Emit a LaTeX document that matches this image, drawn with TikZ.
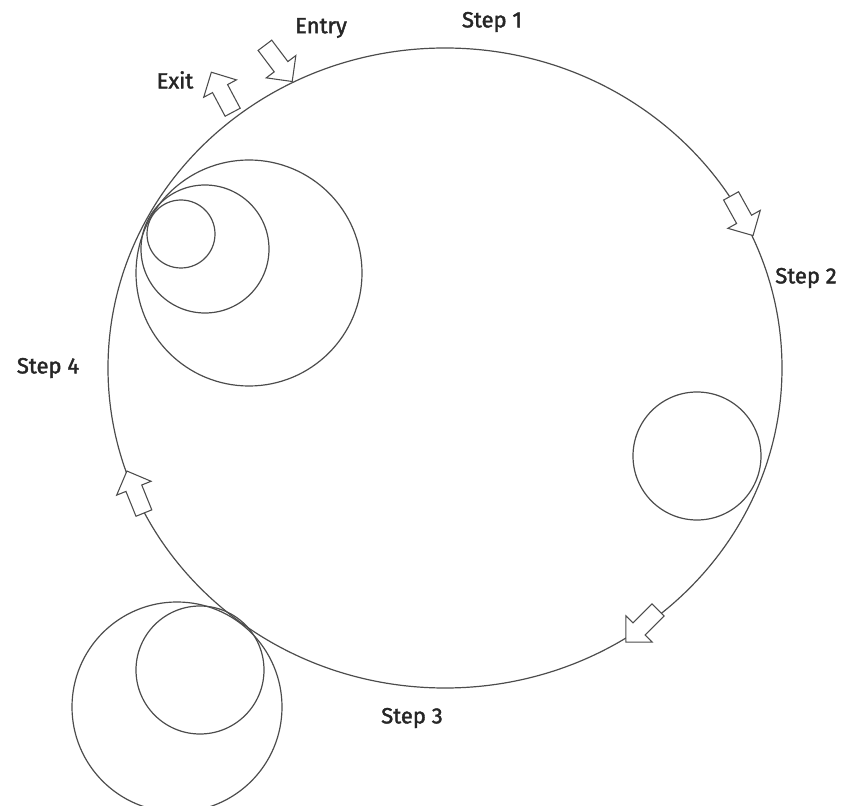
\documentclass[tikz,border=0pt]{standalone}
\usepackage{fontspec}
\setmainfont{Fira Sans}
\newfontfamily\lblfont{Fira Sans}[FakeBold=1.8]
\usetikzlibrary{shapes.arrows}
\tikzset{
  lbl/.style={font=\lblfont\fontsize{16.5}{18}\selectfont, text=black!85, inner sep=1pt},
  ring/.style={draw=black!70, line width=0.9pt},
  barrow/.style={single arrow, draw=black!70, line width=0.8pt, fill=white,
    minimum height=34pt, inner xsep=0pt, inner ysep=6pt, single arrow head extend=7.5pt,
    single arrow head indent=0pt}
}
\begin{document}
\begin{tikzpicture}[x=0.75pt,y=-0.75pt]
\useasboundingbox (0,0) rectangle (844,806);
% main circle
\draw[ring] (445,368) ellipse [x radius=337, y radius=320];
% top-left nested circles
\draw[ring] (249,273) circle [radius=113];
\draw[ring] (205,249) circle [radius=64];
\draw[ring] (181,234) circle [radius=34];
% right circle
\draw[ring] (697,456) circle [radius=64];
% bottom-left circles
\draw[ring] (177,707) circle [radius=105];
\draw[ring] (200,670) circle [radius=64];
% arrows
\node[barrow, rotate=-53] (entryarrow) at (276,60) {};
\node[barrow, rotate=118] (exitarrow) at (224,96) {};
\node[barrow, rotate=-61] (arrow2) at (740,212) {};
\node[barrow, rotate=-135] (arrow3) at (645,623) {};
\node[barrow, rotate=112] (arrow4) at (137,496) {};
% labels
\node[lbl] (entry) at (321,28) {Entry};
\node[lbl] (step1) at (492,22) {Step 1};
\node[lbl] (exit) at (175,80) {Exit};
\node[lbl] (step2) at (806,278) {Step 2};
\node[lbl] (step4) at (48,368) {Step 4};
\node[lbl] (step3) at (412,718) {Step 3};
\end{tikzpicture}
\end{document}
